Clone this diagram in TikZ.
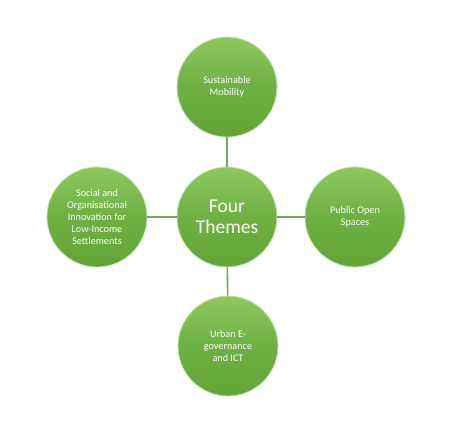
\documentclass[tikz,border=0pt]{standalone}
\usepackage{fontspec}
\setmainfont{Carlito}
\definecolor{leafgreen}{RGB}{110, 176, 66}
\definecolor{leaflight}{RGB}{142, 200, 96}
\definecolor{leafdark}{RGB}{98, 164, 54}
\definecolor{stemgreen}{RGB}{122, 166, 92}
\usetikzlibrary{positioning}

\tikzset{
  theme/.style={circle, minimum size=100pt, inner sep=0pt, align=center,
    top color=leaflight, bottom color=leafdark, middle color=leafgreen,
    draw=leaflight!50!white, line width=0.8pt, text=white,
    font=\fontsize{10.2}{12}\selectfont},
  hub/.style={theme, font=\fontsize{19.5}{21}\selectfont},
  stem/.style={stemgreen, line width=1.6pt}
}

\begin{document}
\begin{tikzpicture}[x=1pt, y=-1pt]
    \useasboundingbox (0,0) rectangle (459,426);

    % Centre of the diagram
    \node[hub] (four) at (227,217) {Four\\Themes};

    % The four themes round it
    \node[theme] (mobility) at (227,87) {Sustainable\\Mobility};
    \node[theme] (spaces) at (355,217) {Public Open\\Spaces};
    \node[theme] (egov) at (228,346) {Urban E-\\governance\\and ICT};
    \node[theme] (social) at (97,217) {Social and\\Organisational\\Innovation for\\Low-Income\\Settlements};

    % Links
    \draw[stem] (four) -- (mobility);
    \draw[stem] (four) -- (spaces);
    \draw[stem] (four) -- (egov);
    \draw[stem] (four) -- (social);
\end{tikzpicture}
\end{document}
